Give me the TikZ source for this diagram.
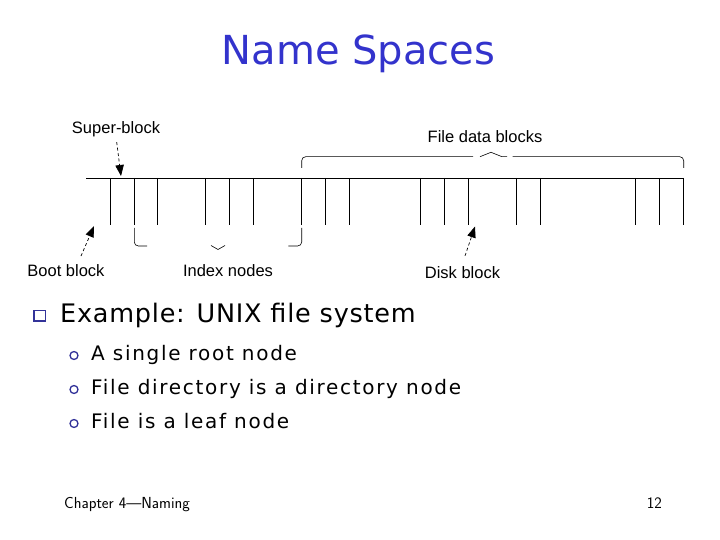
\documentclass[tikz,border=0pt]{standalone}
\usepackage{fontspec}
\usepackage{xcolor}
\usepackage{tikz}
\usetikzlibrary{arrows.meta}
\newfontfamily\titlefont{DejaVu Sans}
\newfontfamily\slidefont[LetterSpace=3]{DejaVu Sans}
\newfontfamily\itemfont[LetterSpace=8.5]{DejaVu Sans}
\newfontfamily\figfont{Liberation Sans}
\definecolor{titleblue}{RGB}{51,51,204}
\definecolor{bulletblue}{RGB}{51,51,153}
\tikzset{
  pointer/.style={line width=.7pt, dash pattern=on 3pt off 2.5pt,
    -{Triangle[length=11pt,width=8.5pt]}},
  bracket/.style={line width=.6pt, rounded corners=4pt}
}

\begin{document}
\begin{tikzpicture}[x=1pt,y=-1pt]
\useasboundingbox (0,0) rectangle (720,540);
\node[anchor=base, text=titleblue, font=\titlefont\fontsize{40}{48}\selectfont] (title) at (358.5,65) {Name Spaces};
% the disk: one line, cut into blocks
\draw[line width=.8pt] (86,178) -- (684,178);
\foreach \x in {110.7,134.3,157.3,205.7,229.3,253.3,301.7,325.3,349,
                420.3,444.3,468.7,516.7,540.3,635.3,659.7,683.7}
  \draw[line width=.8pt] (\x,178) -- (\x,225);
\begin{scope}[every node/.style={anchor=base, inner sep=0pt, font=\figfont\fontsize{16.5}{18}\selectfont}]
  \node (super) at (116,134) {Super-block};
  \node (data) at (485,142.3) {File data blocks};
  \node (boot) at (66,276.7) {Boot block};
  \node (index) at (228,276.7) {Index nodes};
  \node (disk) at (462.5,278) {Disk block};
\end{scope}
\coordinate (superTip) at (121,176);
\coordinate (bootTip) at (94,226);
\coordinate (diskTip) at (475,226.5);
\draw[pointer] ([shift={(0.7,4.5)}]super.south) -- (superTip);
\draw[pointer] ([shift={(15,-8.5)}]boot.north) -- (bootTip);
\draw[pointer] ([shift={(2.5,-10)}]disk.north) -- (diskTip);
% brackets
\draw[bracket] (301.7,168) -- (301.7,156.7) -- (473,156.7);
\draw[line width=.6pt] (480,156.7) -- (491,152.3) -- (502,156.7) -- (507,156.7);
\draw[bracket] (512.7,156.7) -- (683.7,156.7) -- (683.7,168);
\draw[bracket] (134.3,228) -- (134.3,246) -- (147,246);
\draw[line width=.6pt] (211,245.5) -- (218,249.5) -- (225,245.5);
\draw[bracket] (288.3,246) -- (301.7,246) -- (301.7,228);
% bullets
\node[draw=bulletblue, line width=1.4pt, fill=white, minimum width=11.5pt, minimum height=10.5pt, inner sep=0pt] (q) at (39.6,315.8) {};
\node[anchor=base west, inner sep=0pt, font=\slidefont\fontsize{25.5}{30}\selectfont] (example) at (60,322) {Example: UNIX file system};
\begin{scope}[every node/.style={circle, draw=bulletblue, line width=1.3pt, minimum size=8pt, inner sep=0pt}]
  \node (o1) at (74,355.5) {};
  \node (o2) at (74,389.5) {};
  \node (o3) at (74,423.5) {};
\end{scope}
\begin{scope}[every node/.style={anchor=base west, inner sep=0pt, font=\itemfont\fontsize{20}{24}\selectfont}]
  \node (root) at (91,360) {A single root node};
  \node (dir) at (91,394) {File directory is a directory node};
  \node (leaf) at (91,428) {File is a leaf node};
\end{scope}
\begin{scope}[every node/.style={inner sep=0pt, font=\sffamily\fontsize{16}{18}\selectfont\addfontfeature{LetterSpace=8}}]
  \node[anchor=base west] (chapter) at (64,508) {Chapter 4—Naming};
  \node[anchor=base east] (page) at (662,508) {12};
\end{scope}
\end{tikzpicture}
\end{document}
